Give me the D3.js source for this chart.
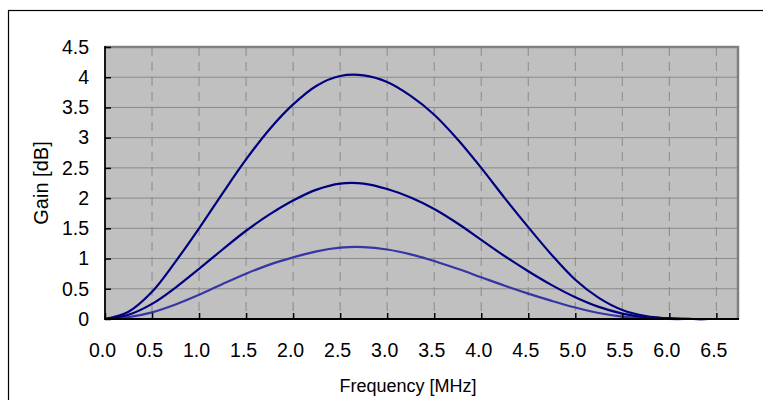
<!DOCTYPE html>
<html lang="en">
<head>
  <meta charset="UTF-8">
  <title>Gain vs Frequency</title>
  <script src="https://d3js.org/d3.v7.min.js"></script>
  <style>
    body { margin: 0; background: #fff; }
    text { font-family: Arial, "Liberation Sans", sans-serif; fill: #000; }
    .axis text { font-size: 19.5px; }
    .axis path { display: none; }
    .axis line { stroke: #000; stroke-width: 1.5px; }
    .label { font-size: 18px; }
    .ylabel { font-size: 20px; }
    .curve { fill: none; stroke-width: 2.2px; }
  </style>
</head>
<body>
  <div id="chart"></div>
  <script>
    // values
    const freq = [0, 0.25, 0.5, 0.75, 1.0, 1.25, 1.5, 1.75, 2.0, 2.25, 2.5, 2.75, 3.0, 3.25,
                  3.5, 3.75, 4.0, 4.25, 4.5, 4.75, 5.0, 5.25, 5.5, 5.75, 6.0, 6.25, 6.5, 6.75];
    const gainHigh = [0, 0.12, 0.45, 0.95, 1.50, 2.08, 2.64, 3.14, 3.55, 3.86, 4.02, 4.03, 3.92, 3.69,
                      3.38, 2.97, 2.50, 2.00, 1.52, 1.06, 0.65, 0.35, 0.15, 0.05, 0.01, 0, 0, 0];
    const gainMid = [0, 0.07, 0.25, 0.52, 0.83, 1.15, 1.46, 1.73, 1.96, 2.14, 2.24, 2.24, 2.15, 2.01,
                     1.82, 1.58, 1.31, 1.04, 0.79, 0.56, 0.36, 0.20, 0.09, 0.03, 0.01, 0, 0, 0];
    const gainLow = [0, 0.03, 0.11, 0.24, 0.40, 0.58, 0.75, 0.90, 1.02, 1.12, 1.18, 1.19, 1.15, 1.07,
                     0.96, 0.83, 0.69, 0.55, 0.42, 0.30, 0.19, 0.10, 0.04, 0.01, 0, 0, 0, 0];
    const xTicks = d3.range(0, 6.51, 0.5);
    const yTicks = d3.range(0, 4.51, 0.5);

    const series = [
      { values: gainLow, color: "#3535a3" },
      { values: gainMid, color: "#000080" },
      { values: gainHigh, color: "#000080" }
    ];

    const W = 763, H = 400;
    const plot = { left: 105, right: 738, top: 47, bottom: 319 };

    const svg = d3.select("#chart").append("svg")
      .attr("width", W)
      .attr("height", H);

    // outer chart border (runs off the bottom/right of the window)
    svg.append("rect")
      .attr("x", 8.5).attr("y", 10.5)
      .attr("width", 820).attr("height", 420)
      .attr("fill", "none")
      .attr("stroke", "#000")
      .attr("stroke-width", 1.2);

    const x = d3.scaleLinear().domain([0, 6.73]).range([plot.left, plot.right]);
    const y = d3.scaleLinear().domain([0, 4.5]).range([plot.bottom, plot.top]);

    svg.append("rect")
      .attr("x", plot.left).attr("y", plot.top)
      .attr("width", plot.right - plot.left)
      .attr("height", plot.bottom - plot.top)
      .attr("fill", "#c0c0c0");

    // gridlines
    svg.append("g").selectAll("line")
      .data(yTicks.filter(d => d > 0 && d < 4.5))
      .join("line")
      .attr("x1", plot.left).attr("x2", plot.right)
      .attr("y1", d => y(d)).attr("y2", d => y(d))
      .attr("stroke", "#8a8a8a").attr("stroke-width", 1);

    svg.append("g").selectAll("line")
      .data(xTicks.filter(d => d > 0))
      .join("line")
      .attr("x1", d => x(d)).attr("x2", d => x(d))
      .attr("y1", plot.top).attr("y2", plot.bottom)
      .attr("stroke", "#8a8a8a").attr("stroke-width", 1)
      .attr("stroke-dasharray", "9,6");

    svg.append("clipPath").attr("id", "clip")
      .append("rect")
      .attr("x", plot.left).attr("y", plot.top - 5)
      .attr("width", plot.right - plot.left)
      .attr("height", plot.bottom - plot.top + 10);

    const line = d3.line()
      .x((d, i) => x(freq[i]))
      .y(d => y(d))
      .curve(d3.curveCatmullRom.alpha(0.5));

    svg.append("g").attr("clip-path", "url(#clip)")
      .selectAll("path")
      .data(series)
      .join("path")
      .attr("class", "curve")
      .attr("stroke", d => d.color)
      .attr("d", d => line(d.values));

    // top and right frame of the plot area
    svg.append("path")
      .attr("d", `M${plot.left},${plot.top}H${plot.right}V${plot.bottom}`)
      .attr("fill", "none")
      .attr("stroke", "#808080")
      .attr("stroke-width", 2.5);

    // axes with inside ticks
    svg.append("g")
      .attr("class", "axis")
      .attr("transform", `translate(${plot.left},0)`)
      .call(d3.axisLeft(y).tickValues(yTicks).tickFormat(d3.format("~g"))
        .tickSizeInner(-6).tickSizeOuter(0).tickPadding(16));

    const xAxis = svg.append("g")
      .attr("class", "axis")
      .attr("transform", `translate(0,${plot.bottom})`)
      .call(d3.axisBottom(x).tickValues(xTicks).tickFormat(d3.format(".1f"))
        .tickSizeInner(-6).tickSizeOuter(0).tickPadding(24));
    xAxis.selectAll("text").attr("dx", -3);

    svg.append("line")
      .attr("x1", plot.left).attr("x2", plot.left)
      .attr("y1", plot.top - 1).attr("y2", plot.bottom + 1)
      .attr("stroke", "#000").attr("stroke-width", 1.8);
    svg.append("line")
      .attr("x1", plot.left).attr("x2", plot.right + 1)
      .attr("y1", plot.bottom).attr("y2", plot.bottom)
      .attr("stroke", "#000").attr("stroke-width", 2);

    svg.append("text")
      .attr("class", "label")
      .attr("x", 408).attr("y", 392)
      .attr("text-anchor", "middle")
      .text("Frequency [MHz]");

    svg.append("text")
      .attr("class", "ylabel")
      .attr("transform", `translate(48,${(plot.top + plot.bottom) / 2}) rotate(-90)`)
      .attr("text-anchor", "middle")
      .text("Gain [dB]");
  </script>
</body>
</html>
